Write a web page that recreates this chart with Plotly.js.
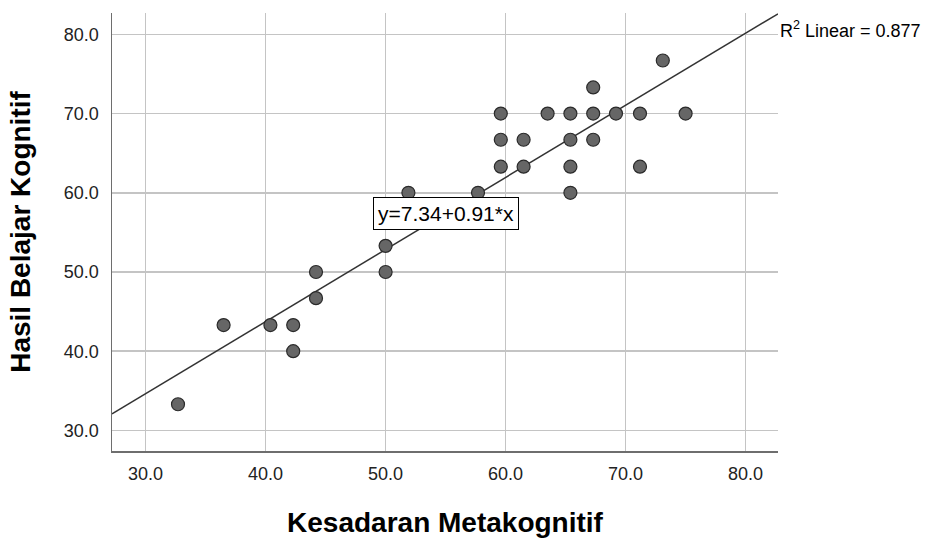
<!DOCTYPE html>
<html>
<head>
<meta charset="utf-8">
<script src="https://cdn.plot.ly/plotly-3.0.1.min.js"></script>
<style>
  html, body { margin: 0; padding: 0; background: #ffffff; }
  #chart { width: 930px; height: 538px; }
</style>
</head>
<body>
<div id="chart"></div>
<script>
// Kesadaran Metakognitif (x) vs Hasil Belajar Kognitif (y)
const kesadaranMetakognitif = [
  73.1, 67.3,
  59.6, 63.5, 65.4, 67.3, 69.2, 71.2, 75.0,
  59.6, 61.5, 65.4, 67.3,
  59.6, 61.5, 65.4, 71.2,
  51.9, 57.7, 65.4,
  50.0, 50.0, 44.2, 44.2,
  36.5, 40.4, 42.3, 42.3,
  32.7
];
const hasilBelajarKognitif = [
  76.7, 73.3,
  70.0, 70.0, 70.0, 70.0, 70.0, 70.0, 70.0,
  66.7, 66.7, 66.7, 66.7,
  63.3, 63.3, 63.3, 63.3,
  60.0, 60.0, 60.0,
  53.3, 50.0, 50.0, 46.7,
  43.3, 43.3, 43.3, 40.0,
  33.3
];
const fitIntercept = 7.34;
const fitSlope = 0.91;
const rSquared = 0.877;
const tickValues = [30, 40, 50, 60, 70, 80];
const xTitle = "Kesadaran Metakognitif";
const yTitle = "Hasil Belajar Kognitif";

const xRange = [27.2, 82.7];
const yRange = [27.4, 82.7];

const fitX = xRange.slice();
const fitY = fitX.map(v => fitIntercept + fitSlope * v);

const FONT = '"Liberation Sans", Arial, sans-serif';

const traces = [
  {
    x: fitX, y: fitY, type: 'scatter', mode: 'lines',
    line: { color: '#333333', width: 1.5 },
    hoverinfo: 'skip', showlegend: false, cliponaxis: true
  },
  {
    x: kesadaranMetakognitif, y: hasilBelajarKognitif,
    type: 'scatter', mode: 'markers',
    marker: { size: 13, color: '#666666', line: { color: '#2a2a2a', width: 1.2 } },
    showlegend: false
  }
];

const axisCommon = {
  tickvals: tickValues,
  tickformat: '.1f',
  showgrid: true,
  gridcolor: '#c4c4c4',
  gridwidth: 1.5,
  zeroline: false,
  showline: true,
  linecolor: '#6e6e6e',
  linewidth: 1.5,
  ticks: '',
  tickfont: { family: FONT, size: 18, color: '#222222' },
  fixedrange: true
};

const layout = {
  width: 930, height: 538,
  paper_bgcolor: '#ffffff', plot_bgcolor: '#ffffff',
  margin: { l: 112, r: 152, t: 13, b: 87 },
  showlegend: false,
  xaxis: Object.assign({}, axisCommon, {
    range: xRange,
    ticklabelstandoff: 6,
    title: { text: xTitle, font: { family: FONT, size: 28, color: '#000000', weight: 'bold' }, standoff: 30 }
  }),
  yaxis: Object.assign({}, axisCommon, {
    range: yRange,
    ticklabelstandoff: 8,
    title: { text: yTitle, font: { family: FONT, size: 28, color: '#000000', weight: 'bold' }, standoff: 25 }
  }),
  annotations: [
    {
      x: 55.0, y: 57.33, xref: 'x', yref: 'y',
      text: 'y=' + fitIntercept.toFixed(2) + '+' + fitSlope.toFixed(2) + '*x',
      showarrow: false,
      font: { family: FONT, size: 21, color: '#000000' },
      bgcolor: '#ffffff', bordercolor: '#000000', borderwidth: 1, borderpad: 4,
      xanchor: 'center', yanchor: 'middle'
    },
    {
      x: 1, y: 80.6, xref: 'paper', yref: 'y',
      text: 'R<sup>2</sup> Linear = ' + rSquared.toFixed(3),
      showarrow: false,
      font: { family: FONT, size: 18, color: '#000000' },
      xanchor: 'left', yanchor: 'middle', xshift: 0
    }
  ]
};

Plotly.newPlot('chart', traces, layout, { displayModeBar: false, staticPlot: true });
</script>
</body>
</html>
